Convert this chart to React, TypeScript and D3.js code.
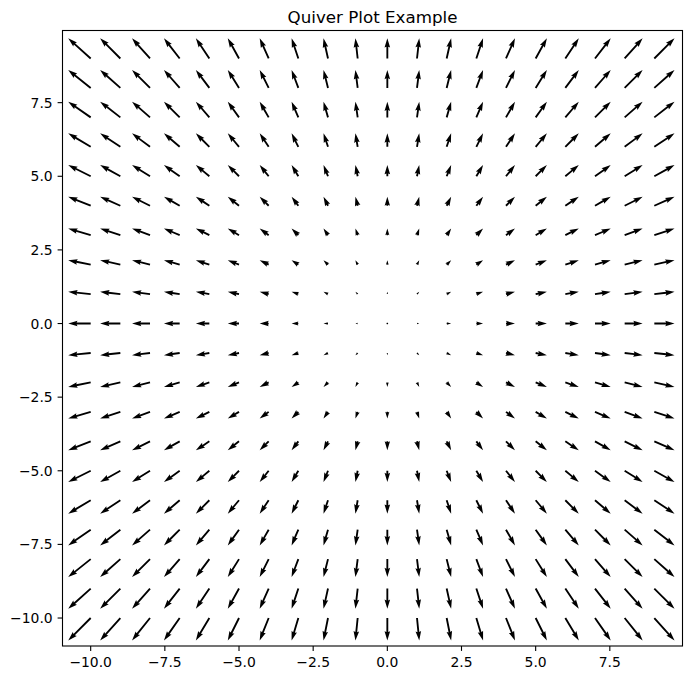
import React from "react";
import * as d3 from "d3";

const gridX: number[] = d3.range(-10, 10, 1);
const gridY: number[] = d3.range(-10, 10, 1);
const xTicks = [-10, -7.5, -5, -2.5, 0, 2.5, 5, 7.5];
const yTicks = [-10, -7.5, -5, -2.5, 0, 2.5, 5, 7.5];
const xDomain = [-10.95, 9.95];
const yDomain = [-10.95, 9.95];
const title = "Quiver Plot Example";

const W = 692, H = 680;
const L = 62.5, R = 682.5, T = 30.5, B = 646;

type Vec = { x: number; y: number; u: number; v: number };
const vectors: Vec[] = [];
gridY.forEach((y) => gridX.forEach((x) => vectors.push({ x, y, u: x, v: y })));

const fmt = (t: number) => t.toFixed(1).replace("-", "\u2212");

export default function App() {
  const xs = d3.scaleLinear().domain(xDomain).range([L, R]);
  const ys = d3.scaleLinear().domain(yDomain).range([B, T]);
  const axW = R - L;
  const N = vectors.length;
  const mags = vectors.map((d) => Math.hypot(d.u, d.v));
  const amean = d3.mean(mags) as number;
  const sn = Math.max(10, Math.sqrt(N));
  const scale = 1.8 * amean * sn; // in units of axes width
  const snW = Math.min(25, Math.max(8, Math.sqrt(N)));
  const widthPx = (0.06 / snW) * axW;
  const headwidth = 3, headlength = 5, headaxislength = 4.5, minshaft = 1, minlength = 1;
  const minsh = minshaft * headlength;

  const paths = vectors.map((d, i) => {
    const a = mags[i];
    const lenPx = (a / scale) * axW;
    const len = lenPx / widthPx; // width units
    let X: number[], Y: number[];
    if (len < minlength) {
      X = []; Y = [];
      for (let k = 0; k < 8; k++) {
        const th = (k * Math.PI) / 3;
        X.push(Math.cos(th) * minlength * 0.5);
        Y.push(Math.sin(th) * minlength * 0.5);
      }
    } else if (len < minsh) {
      const s = len / minsh;
      const x0 = [0, minsh - headaxislength, minsh - headlength, minsh];
      const y0 = [0.5, 0.5, 0.5 * headwidth, 0];
      const ii = [0, 1, 2, 3, 2, 1, 0, 0];
      X = ii.map((j) => x0[j] * s);
      Y = ii.map((j, k) => (k >= 3 && k < 7 ? -1 : 1) * y0[j] * s);
    } else {
      const x = [0, len - headaxislength, len - headlength, len];
      const y = [0.5, 0.5, 0.5 * headwidth, 0];
      const ii = [0, 1, 2, 3, 2, 1, 0, 0];
      X = ii.map((j) => x[j]);
      Y = ii.map((j, k) => (k >= 3 && k < 7 ? -1 : 1) * y[j]);
    }
    const th = Math.atan2(d.v, d.u);
    const c = Math.cos(th), s2 = Math.sin(th);
    const ox = xs(d.x), oy = ys(d.y);
    const pts: [number, number][] = X.map((px, k) => {
      const qx = px * widthPx, qy = Y[k] * widthPx;
      const rx = qx * c - qy * s2;
      const ry = qx * s2 + qy * c;
      return [ox + rx, oy - ry];
    });
    return d3.line()(pts) + "Z";
  });

  const font = "DejaVu Sans, sans-serif";
  return (
    <svg width={W} height={H} style={{ position: "absolute", left: 0, top: 0, background: "#fff" }}>
      <rect x={0} y={0} width={W} height={H} fill="#fff" />
      <g>
        {paths.map((p, i) => (
          <path key={i} d={p} fill="#000" />
        ))}
      </g>
      <rect x={L} y={T} width={R - L} height={B - T} fill="none" stroke="#000" strokeWidth={1.1} />
      {xTicks.map((t) => (
        <g key={"x" + t}>
          <line x1={xs(t)} x2={xs(t)} y1={B} y2={B + 4.9} stroke="#000" strokeWidth={1.1} />
          <text x={xs(t)} y={667} textAnchor="middle" fontFamily={font} fontSize={13.9}>{fmt(t)}</text>
        </g>
      ))}
      {yTicks.map((t) => (
        <g key={"y" + t}>
          <line x1={L} x2={L - 4.9} y1={ys(t)} y2={ys(t)} stroke="#000" strokeWidth={1.1} />
          <text x={L - 9.8} y={ys(t) + 5} textAnchor="end" fontFamily={font} fontSize={13.9}>{fmt(t)}</text>
        </g>
      ))}
      <text x={(L + R) / 2} y={22.5} textAnchor="middle" fontFamily={font} fontSize={16.7}>{title}</text>
    </svg>
  );
}
